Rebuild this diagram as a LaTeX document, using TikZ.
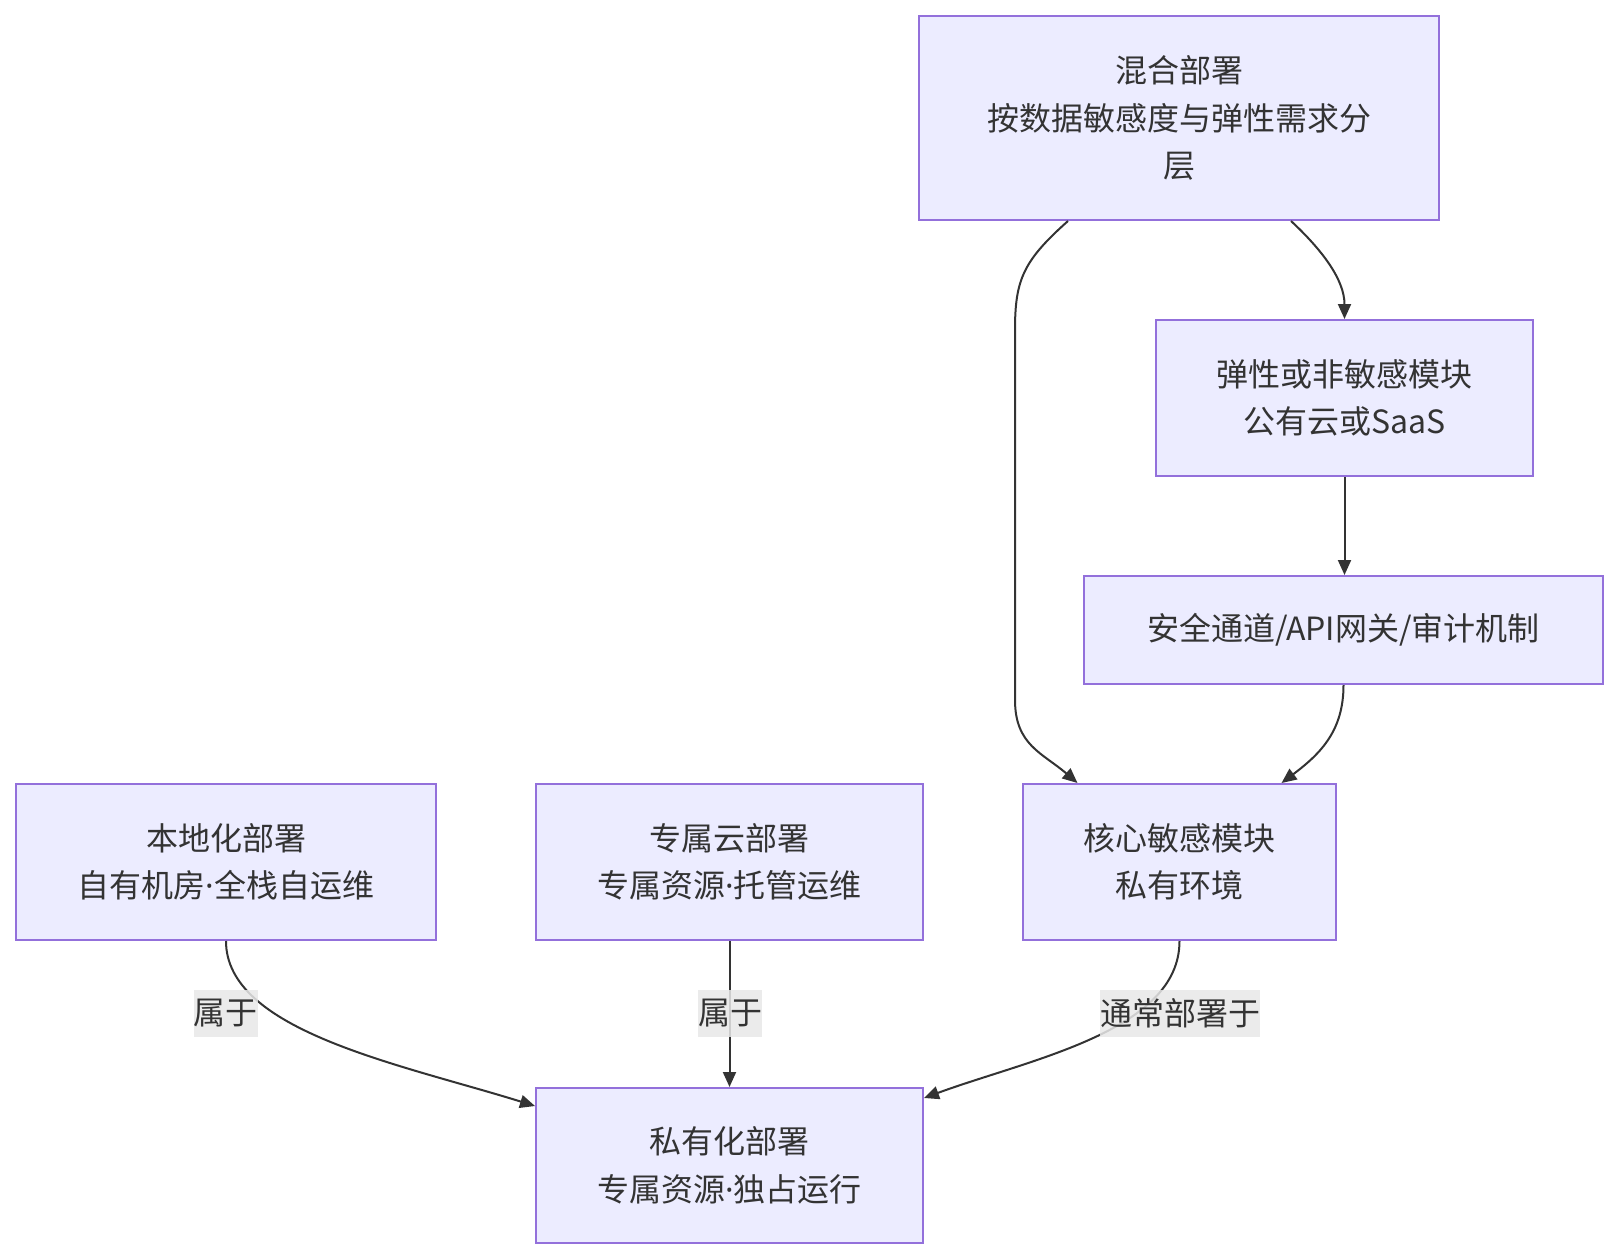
\documentclass[tikz,border=0pt]{standalone}
\usepackage{fontspec}
\setmainfont{Noto Sans CJK SC}
\newfontfamily\latinfont{Noto Sans}
\newcommand{\mdot}{{\latinfont ·}}
\usetikzlibrary{arrows.meta}
\definecolor{nodefill}{HTML}{ECECFF}
\definecolor{nodeborder}{HTML}{9370DB}
\definecolor{linec}{HTML}{333333}
\definecolor{labelbg}{HTML}{E8E8E8}
\begin{document}
\begin{tikzpicture}[x=1pt,y=-1pt,
  box/.style={draw=nodeborder, fill=nodefill, line width=2pt, align=center, inner sep=0pt,
    text=linec, font=\fontsize{32}{47.5}\selectfont},
  elabel/.style={fill=labelbg, fill opacity=0.85, text opacity=1, inner xsep=0pt, inner ysep=0pt,
    minimum height=47pt, text=linec, font=\fontsize{32}{47.5}\selectfont},
  conn/.style={draw=linec, line width=2pt, -{Triangle[length=15pt,width=13pt]}}
]
\useasboundingbox (0,0) rectangle (1619,1260);

\node[box, minimum width=520pt, minimum height=204pt] (hyb) at (1179,118) {混合部署\\按数据敏感度与弹性需求分\\层};
\node[box, minimum width=377pt, minimum height=156pt] (ela) at (1344.5,398) {弹性或非敏感模块\\公有云或SaaS};
\node[box, minimum width=519pt, minimum height=108pt] (sec) at (1343.5,630) {安全通道/API网关/审计机制};
\node[box, minimum width=313pt, minimum height=156pt] (core) at (1179.5,862) {核心敏感模块\\私有环境};
\node[box, minimum width=420pt, minimum height=156pt] (loc) at (226,862) {本地化部署\\自有机房\mdot 全栈自运维};
\node[box, minimum width=387pt, minimum height=156pt] (ded) at (729.5,862) {专属云部署\\专属资源\mdot 托管运维};
\node[box, minimum width=387pt, minimum height=155pt] (priv) at (729.5,1165.5) {私有化部署\\专属资源\mdot 独占运行};

% Hybrid -> core (long left curve)
\coordinate (c1a) at (1015,330);
\coordinate (c1b) at (1015,700);
\draw[conn] ([xshift=-111pt]hyb.south) .. controls +(-45,40) and +(0,-50) .. (c1a) -- (c1b)
  .. controls +(0,45) and +(-35,-30) .. ([xshift=-102pt]core.north);
% Hybrid -> elastic
\draw[conn] ([xshift=112pt]hyb.south) .. controls +(30,28) and +(0,-40) .. (ela.north);
% Elastic -> secure
\draw[conn] (ela.south) -- (ela.south |- sec.north);
% Secure -> core
\draw[conn] (sec.south) .. controls +(0,45) and +(40,-30) .. ([xshift=102pt]core.north);
% Local -> private
\draw[conn] (loc.south) .. controls +(0,90) and +(-135,-42) .. ([yshift=-19pt]priv.north west);
% Dedicated -> private
\draw[conn] (ded.south) -- (priv.north);
% Core -> private
\draw[conn] (core.south) .. controls +(0,90) and +(106,-39) .. ([yshift=-11pt]priv.north east);

\node[elabel] (l1) at (225.5,1013.5) {属于};
\node[elabel] (l2) at (730,1013.5) {属于};
\node[elabel] (l3) at (1180,1013.5) {通常部署于};
\end{tikzpicture}
\end{document}
